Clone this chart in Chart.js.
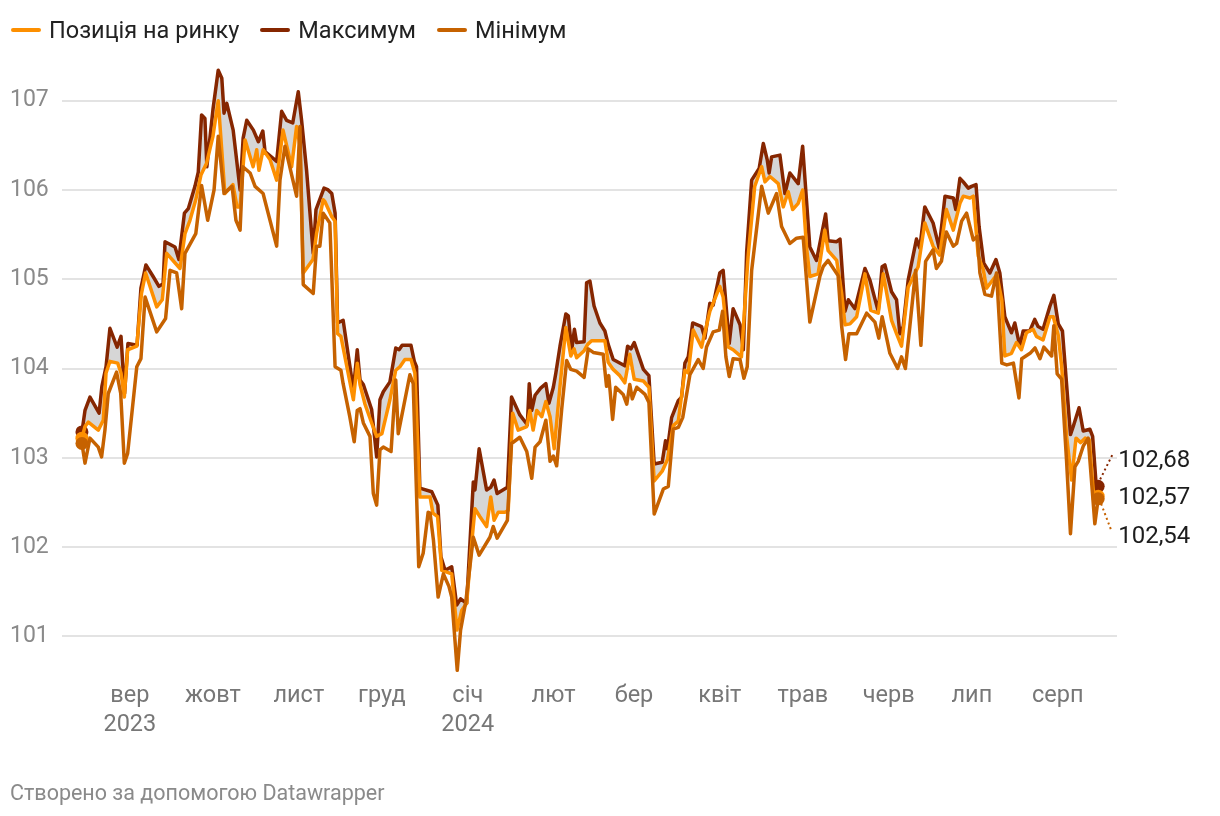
<!DOCTYPE html>
<html><head><meta charset="utf-8">
<script src="https://cdn.jsdelivr.net/npm/chart.js@4.4.1/dist/chart.umd.min.js"></script>
<style>
html,body{margin:0;padding:0;background:#fff;width:1220px;height:816px;overflow:hidden;font-family:Roboto,"Noto Sans",sans-serif;}
#legend{position:absolute;left:11px;top:16px;display:flex;align-items:center;font-size:23.5px;line-height:28px;color:#222;white-space:nowrap;}
.item{display:flex;align-items:center;margin-right:21px;}
.sw{width:30px;height:4px;border-radius:2px;margin-right:8px;}
#footer{position:absolute;left:10px;top:780px;font-size:21.5px;line-height:26px;color:#8a8a8a;}
canvas{position:absolute;left:0;top:0;}
</style></head>
<body>
<canvas id="c" width="1220" height="816"></canvas>
<div id="legend"></div>
<div id="footer">Створено за допомогою Datawrapper</div>
<script>
// x values: days since 2023-08-14
const seriesNames = ['Позиція на ринку', 'Максимум', 'Мінімум'];
const seriesColors = ['#fd8f00', '#862600', '#c66200'];

const maxDays = [0.7,1.8,3.6,6.9,7.9,9.4,10.8,13.4,14.8,16.1,17.3,20.6,22.0,23.8,26.4,28.5,30.0,30.7,34.3,35.7,37.7,39.1,41.5,42.7,43.9,45.1,45.8,48.0,49.9,51.2,52.0,53.0,55.3,57.8,58.9,60.2,62.6,64.4,66.0,66.8,71.0,72.8,74.6,76.8,78.8,80.0,81.8,84.2,85.2,88.1,89.6,90.9,92.1,93.0,95.0,98.7,100.1,101.1,102.3,105.3,107.1,108.3,109.5,111.9,114.0,115.2,116.3,119.5,120.7,121.5,122.7,127.0,129.2,130.3,131.8,134.2,136.0,137.4,139.6,142.0,142.6,144.1,146.8,148.3,149.5,150.6,154.3,155.8,158.8,161.5,162.2,163.1,164.3,166.3,168.2,169.3,170.9,171.8,173.3,175.4,176.3,177.5,178.5,179.3,182.0,182.9,184.1,185.6,187.7,189.5,190.7,192.5,196.7,197.7,198.9,200.1,203.4,205.4,207.3,210.2,211.4,212.1,213.6,216.0,217.2,218.4,219.6,221.2,224.4,225.6,227.4,228.6,231.0,232.2,234.4,235.8,238.3,239.5,240.7,242.5,245.2,246.7,248.1,248.8,249.7,252.7,254.5,256.3,259.3,260.9,262.3,263.5,265.9,269.2,270.1,273.2,274.4,276.2,277.4,279.8,283.4,285.2,288.2,289.6,290.6,293.0,294.8,296.0,297.2,299.0,302.0,303.2,305.0,308.0,310.2,312.3,315.3,316.2,317.7,318.9,320.7,321.9,323.5,324.6,326.3,328.5,330.7,332.1,333.9,336.3,337.5,339.3,340.5,342.9,344.7,345.9,347.7,350.2,351.6,353.2,354.7,357.6,358.6,360.7,362.2,364.6,365.6,366.8,367.6];
const maxVals = [103.29,103.53,103.68,103.50,103.80,104.02,104.45,104.24,104.36,103.72,104.28,104.26,104.90,105.16,105.03,104.92,104.95,105.42,105.36,105.22,105.74,105.79,106.04,106.20,106.84,106.80,106.26,106.90,107.34,107.25,106.86,106.97,106.67,106.00,106.58,106.78,106.67,106.54,106.66,106.43,106.32,106.88,106.78,106.75,107.10,106.78,106.22,105.29,105.78,106.02,106.00,105.96,105.74,104.51,104.54,103.76,104.21,103.87,103.82,103.54,103.01,103.65,103.74,103.85,104.23,104.21,104.26,104.26,104.08,104.02,102.66,102.62,102.47,101.89,101.74,101.78,101.35,101.42,101.37,102.73,102.64,103.10,102.64,102.67,102.75,102.60,102.67,103.68,103.48,103.37,103.83,103.53,103.70,103.78,103.83,103.61,103.79,103.95,104.25,104.61,104.59,104.20,104.44,104.29,104.30,104.96,104.98,104.70,104.51,104.42,104.27,104.10,104.03,104.25,104.22,104.29,103.99,103.92,102.93,102.95,103.19,103.10,103.45,103.64,103.68,104.06,104.13,104.51,104.47,104.34,104.73,104.71,105.07,105.10,104.28,104.67,104.49,104.21,105.31,106.11,106.24,106.52,106.34,106.19,106.37,106.39,105.96,106.19,106.07,106.49,105.88,105.36,105.21,105.73,105.43,105.42,105.45,104.64,104.77,104.67,105.12,104.99,104.64,105.14,105.16,104.86,104.77,104.39,104.47,104.99,105.45,105.35,105.81,105.63,105.35,105.93,105.91,105.78,106.13,106.09,106.02,106.04,106.06,105.59,105.18,105.07,105.22,105.07,104.58,104.40,104.51,104.25,104.42,104.42,104.55,104.47,104.44,104.70,104.82,104.50,104.42,103.26,103.35,103.56,103.30,103.32,103.24,102.73,102.68];

const posDays = [0.7,1.8,3.0,6.6,8.4,9.4,10.8,13.6,14.8,16.0,17.2,20.5,22.2,23.7,27.7,29.7,31.3,36.1,37.9,39.7,41.8,43.7,45.7,48.0,49.9,52.3,55.2,56.7,57.8,59.6,62.5,63.8,64.6,66.1,68.6,71.0,73.3,76.4,78.2,79.4,80.6,84.1,85.4,87.8,88.4,90.9,92.1,93.0,94.2,98.7,100.1,101.1,102.9,105.3,107.1,109.0,111.9,114.0,115.5,117.3,119.5,120.9,122.7,126.4,127.4,129.1,130.6,132.4,134.2,136.1,137.8,139.6,141.4,142.6,144.4,146.8,148.3,149.5,151.0,153.4,154.6,156.2,158.2,161.3,162.4,163.6,164.9,166.7,168.2,169.7,171.2,173.3,175.4,177.2,178.4,179.3,182.0,183.3,184.7,189.5,190.7,192.5,194.9,196.7,198.5,200.1,203.4,205.4,207.3,210.2,212.1,214.2,216.0,218.4,219.6,221.4,224.4,227.4,231.0,232.2,234.0,235.8,238.8,241.2,243.6,246.1,247.3,249.1,252.1,253.9,255.7,257.3,259.3,260.9,262.3,263.5,266.5,268.9,270.1,273.2,275.0,276.2,278.0,280.4,283.4,285.5,288.2,290.0,293.0,294.8,296.6,299.0,302.6,303.2,305.0,308.0,310.4,312.8,315.3,317.7,318.9,321.3,322.5,324.3,326.1,327.3,331.0,332.8,333.9,336.3,338.1,339.9,341.7,344.1,345.3,347.7,350.2,351.4,353.2,354.4,356.2,358.0,359.6,361.3,362.9,364.4,365.9,367.6];
const posVals = [103.22,103.35,103.40,103.31,103.42,103.95,104.08,104.06,103.95,103.68,104.21,104.25,104.84,105.07,104.69,104.77,105.29,105.12,105.51,105.66,105.89,106.17,106.30,106.60,107.00,105.96,106.06,105.81,105.81,106.56,106.26,106.45,106.22,106.45,106.34,106.11,106.67,106.26,106.71,106.50,105.07,105.22,105.51,105.89,105.87,105.70,105.65,104.39,104.36,103.65,104.06,103.82,103.60,103.39,103.24,103.27,103.65,103.98,104.02,104.10,104.10,103.95,102.56,102.56,102.38,102.34,101.74,101.72,101.70,101.07,101.29,101.37,102.04,102.43,102.34,102.23,102.56,102.30,102.39,102.39,102.41,103.50,103.31,103.35,103.53,103.31,103.53,103.46,103.63,103.46,103.10,103.80,104.46,104.14,104.22,104.12,104.20,104.27,104.31,104.31,104.07,103.99,103.92,103.84,104.16,103.88,103.86,103.79,102.74,102.85,102.98,103.36,103.41,103.98,103.95,104.43,104.24,104.64,104.92,104.80,104.24,104.21,104.13,105.25,106.04,106.26,106.09,106.15,106.07,105.81,105.98,105.78,105.85,106.00,105.36,105.03,105.06,105.55,105.32,105.21,104.84,104.49,104.50,104.58,105.06,104.65,104.62,105.06,104.54,104.39,104.25,104.91,105.14,105.26,105.63,105.37,105.27,105.78,105.55,105.85,105.93,105.91,105.93,105.26,105.11,104.90,105.05,104.77,104.14,104.17,104.29,104.21,104.40,104.44,104.36,104.32,104.58,104.58,104.37,104.03,103.24,102.75,103.22,103.17,103.22,103.20,102.60,102.57];

const minDays = [0.7,1.8,3.6,6.6,7.8,9.0,10.2,13.2,14.7,16.0,17.2,20.5,22.0,23.5,27.7,30.9,32.5,34.9,36.7,37.9,41.8,43.9,46.1,48.4,49.9,52.0,54.9,56.3,57.8,58.8,61.4,63.2,66.1,71.0,72.2,74.0,78.2,79.4,80.6,84.2,85.4,86.6,87.8,90.2,92.1,94.2,95.0,97.4,99.0,100.1,101.1,102.3,104.7,105.9,107.1,108.3,109.5,112.3,114.0,114.9,119.1,120.3,122.3,123.9,125.7,126.4,127.6,129.3,131.2,133.2,134.2,136.2,137.4,139.3,142.0,144.1,148.0,149.2,150.6,154.3,155.8,158.8,161.3,163.1,164.3,166.1,168.2,169.7,170.9,172.1,173.9,175.7,177.2,179.3,182.0,183.5,185.3,188.9,190.1,190.9,192.3,193.4,196.1,197.4,198.5,199.4,201.0,204.0,205.4,207.3,210.6,212.4,214.2,216.0,217.6,220.2,223.2,225.0,226.2,228.6,230.8,232.0,233.2,234.4,235.8,238.3,239.7,240.9,242.5,246.1,248.5,251.5,253.3,256.3,258.7,261.1,263.5,267.1,268.3,270.1,273.7,275.0,276.4,277.6,280.4,284.0,287.0,288.4,289.6,292.4,295.2,296.6,298.0,299.6,301.7,303.6,305.3,308.0,309.2,311.0,312.8,315.3,316.5,318.3,320.1,322.5,324.0,324.9,326.7,329.1,330.9,332.8,334.6,337.0,339.0,340.0,343.0,344.8,346.6,348.0,350.8,351.6,352.8,354.4,356.2,357.6,359.2,360.4,362.2,364.0,366.4,367.6];
const minVals = [103.16,102.94,103.22,103.12,103.01,103.31,103.72,103.96,103.72,102.94,103.05,104.02,104.11,104.80,104.41,104.56,105.10,105.07,104.67,105.29,105.51,106.05,105.66,106.00,106.60,105.96,106.04,105.66,105.55,106.26,106.19,106.04,105.96,105.37,106.11,106.49,105.93,106.71,104.94,104.84,105.37,105.37,105.74,105.63,104.02,103.98,103.83,103.46,103.18,103.53,103.55,103.39,103.24,102.60,102.47,103.09,103.12,103.07,103.87,103.27,103.93,103.83,101.78,101.93,102.39,102.38,102.08,101.44,101.70,101.56,101.44,100.62,101.07,101.39,102.11,101.91,102.11,102.23,102.10,102.30,103.16,103.23,103.07,102.77,103.12,103.18,103.42,102.96,103.02,102.91,103.54,104.09,103.99,103.97,103.90,104.22,104.18,104.16,103.80,103.92,103.43,103.79,103.71,103.60,103.82,103.66,103.79,103.71,103.62,102.37,102.65,102.68,103.32,103.34,103.45,103.93,104.10,104.00,104.24,104.41,104.43,104.64,104.13,103.91,104.11,104.10,103.89,104.02,105.10,106.04,105.74,105.96,105.59,105.40,105.46,105.47,104.52,105.03,105.14,105.21,105.04,104.47,104.10,104.39,104.39,104.62,104.52,104.34,104.58,104.17,104.00,104.13,104.00,104.47,105.10,104.26,105.20,105.33,105.12,105.20,105.53,105.37,105.40,105.65,105.74,105.44,105.48,105.07,104.83,104.81,105.07,104.06,104.04,104.06,103.67,104.11,104.17,104.23,104.11,104.24,104.14,104.48,103.94,103.88,102.96,102.15,102.90,102.96,103.13,103.22,102.26,102.54];

const monthDays = [18, 48, 79, 109, 140, 171, 200, 231, 261, 292, 322, 353];
const monthLabels = [['вер','2023'], 'жовт', 'лист', 'груд', ['січ','2024'], 'лют', 'бер', 'квіт', 'трав', 'черв', 'лип', 'серп'];
const yTicks = [101, 102, 103, 104, 105, 106, 107];

const toPts = (d, v) => d.map((x, i) => ({x, y: v[i]}));
const endRadius = n => c => (c.dataIndex === 0 || c.dataIndex === n - 1) ? 6.5 : 0;

// legend
const lg = document.getElementById('legend');
seriesNames.forEach((n, i) => {
  const it = document.createElement('div'); it.className = 'item';
  it.innerHTML = '<span class="sw" style="background:' + seriesColors[i] + '"></span><span>' + n + '</span>';
  lg.appendChild(it);
});

const FONT = 'Roboto, "Noto Sans", sans-serif';

const endLabels = {
  id: 'endLabels',
  afterDatasetsDraw(chart) {
    const c = chart.ctx, xs = chart.scales.x, ys = chart.scales.y;
    const lastP = posVals[posVals.length - 1], lastMax = maxVals[maxVals.length - 1], lastMin = minVals[minVals.length - 1];
    const xP = xs.getPixelForValue(posDays[posDays.length - 1]);
    const xMax = xs.getPixelForValue(maxDays[maxDays.length - 1]);
    const xMin = xs.getPixelForValue(minDays[minDays.length - 1]);
    const yP = ys.getPixelForValue(lastP), yMax = ys.getPixelForValue(lastMax), yMin = ys.getPixelForValue(lastMin);
    const lx = xP + 20;
    const labPY = yP + 2, labMaxY = yP - 35, labMinY = yP + 41;
    c.save();
    c.lineWidth = 2; c.setLineDash([2, 3]);
    c.strokeStyle = seriesColors[1];
    c.beginPath(); c.moveTo(xMax + 2, yMax - 7); c.lineTo(lx - 6, labMaxY - 6); c.stroke();
    c.strokeStyle = seriesColors[2];
    c.beginPath(); c.moveTo(xMin + 3, yMin + 5); c.lineTo(lx - 7, labMinY - 7); c.stroke();
    c.setLineDash([]);
    c.fillStyle = '#1d1d1d';
    c.font = '24px ' + FONT;
    c.textBaseline = 'middle'; c.textAlign = 'left';
    const fmt = v => v.toFixed(2).replace('.', ',');
    c.fillText(fmt(lastMax), lx, labMaxY);
    c.fillText(fmt(lastP), lx, labPY);
    c.fillText(fmt(lastMin), lx, labMinY);
    c.restore();
  }
};

new Chart(document.getElementById('c'), {
  type: 'line',
  data: {
    datasets: [
      { label: seriesNames[0], data: toPts(posDays, posVals), borderColor: seriesColors[0], backgroundColor: seriesColors[0],
        borderWidth: 3.5, order: 2, fill: false, pointRadius: endRadius(posVals.length), pointBorderWidth: 0, pointHoverRadius: 0 },
      { label: seriesNames[1], data: toPts(maxDays, maxVals), borderColor: seriesColors[1], backgroundColor: seriesColors[1],
        borderWidth: 3.5, order: 3, fill: { target: 0, above: '#d6d6d6', below: '#d6d6d6' },
        pointRadius: endRadius(maxVals.length), pointBorderWidth: 0, pointHoverRadius: 0 },
      { label: seriesNames[2], data: toPts(minDays, minVals), borderColor: seriesColors[2], backgroundColor: seriesColors[2],
        borderWidth: 3.5, order: 1, fill: false, pointRadius: endRadius(minVals.length), pointBorderWidth: 0, pointHoverRadius: 0 }
    ]
  },
  options: {
    responsive: false, animation: false,
    layout: { padding: { left: 10, right: 103, top: 56, bottom: 75 } },
    elements: { line: { tension: 0, borderJoinStyle: 'round', borderCapStyle: 'round' } },
    plugins: { legend: { display: false }, tooltip: { enabled: false } },
    scales: {
      x: {
        type: 'linear', min: -6.5, max: 374.4,
        afterBuildTicks: s => { s.ticks = monthDays.map(v => ({ value: v })); },
        afterFit: s => { s.height = 60; },
        ticks: { autoSkip: false, maxRotation: 0, padding: 1, color: '#777', font: { family: FONT, size: 23.5, lineHeight: 1.22 },
          callback: (v, i) => monthLabels[i] },
        grid: { display: false, drawTicks: false }, border: { display: false }
      },
      y: {
        min: 100.5, max: 107.5,
        afterBuildTicks: s => { s.ticks = yTicks.map(v => ({ value: v })); },
        afterFit: s => { s.width = 52; },
        ticks: { crossAlign: 'far', padding: 0, color: '#8a8a8a', font: { family: FONT, size: 23 } },
        grid: { color: '#e3e3e3', lineWidth: 2, drawTicks: false }, border: { display: false }
      }
    }
  },
  plugins: [endLabels]
});
</script>
</body></html>
